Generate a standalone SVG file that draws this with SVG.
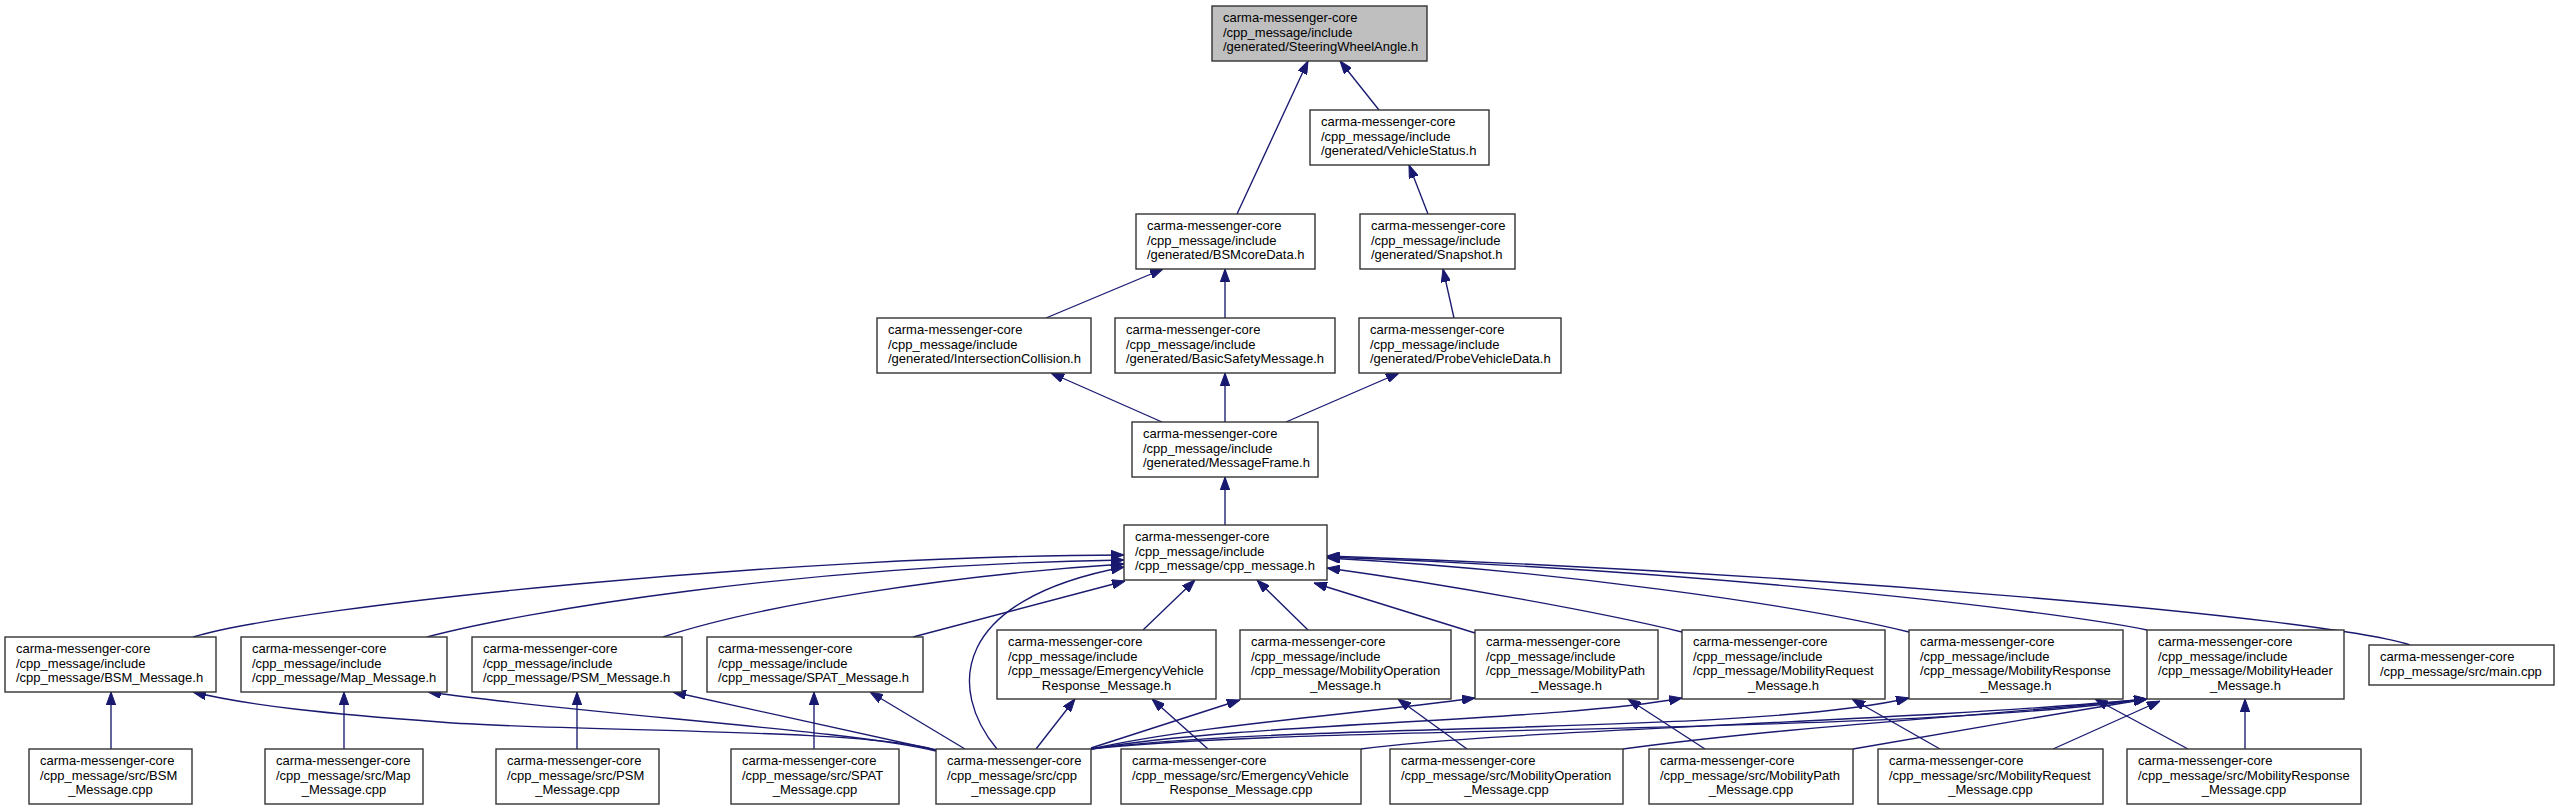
<svg xmlns="http://www.w3.org/2000/svg" width="2559" height="809" viewBox="0 0 2559 809">
<style>
.n rect{fill:#ffffff;stroke:#333333;stroke-width:1.4}
.n.root rect{fill:#bfbfbf}
.n text{font-family:"Liberation Sans",Arial,Helvetica,sans-serif;font-size:13px;fill:#000000}
.n text.c{text-anchor:middle}
#edges path{fill:none;stroke:#191970;stroke-width:1.35}
</style>
<defs>
<marker id="ah" viewBox="0 0 13 9.4" refX="13" refY="4.7" markerUnits="userSpaceOnUse" markerWidth="13" markerHeight="9.4" orient="auto">
<path d="M0,0 L13,4.7 L0,9.4 z" fill="#191970" stroke="#191970" stroke-width="1"/>
</marker>
</defs>
<rect x="0" y="0" width="2559" height="809" fill="#ffffff"/>

<g id="edges">
<path d="M1237,214 L1308,61" marker-end="url(#ah)"/>
<path d="M1379,110 L1340,61" marker-end="url(#ah)"/>
<path d="M1428,214 L1409,165" marker-end="url(#ah)"/>
<path d="M1046,318 L1163,269" marker-end="url(#ah)"/>
<path d="M1225,318 L1225,269" marker-end="url(#ah)"/>
<path d="M1454,318 L1443,269" marker-end="url(#ah)"/>
<path d="M1162,422 L1051,373" marker-end="url(#ah)"/>
<path d="M1225,422 L1225,373" marker-end="url(#ah)"/>
<path d="M1286,422 L1399,373" marker-end="url(#ah)"/>
<path d="M1225,525 L1225,477" marker-end="url(#ah)"/>

<path d="M193,637 C300,605 800,555 1124,555" marker-end="url(#ah)"/>
<path d="M427,637 C520,612 800,565 1124,560" marker-end="url(#ah)"/>
<path d="M663,637 C760,605 950,575 1124,564" marker-end="url(#ah)"/>
<path d="M913,637 L1125,581" marker-end="url(#ah)"/>
<path d="M997,749 C948,690 950,600 1124,567" marker-end="url(#ah)"/>
<path d="M1143,630 L1195,580" marker-end="url(#ah)"/>
<path d="M1308,630 L1257,580" marker-end="url(#ah)"/>
<path d="M1475,633 L1314,583" marker-end="url(#ah)"/>
<path d="M1682,632 C1600,612 1450,585 1327,568" marker-end="url(#ah)"/>
<path d="M1909,632 C1800,605 1550,570 1327,558" marker-end="url(#ah)"/>
<path d="M2147,630 C2050,610 1700,570 1327,557" marker-end="url(#ah)"/>
<path d="M2410,645 C2330,618 1800,572 1327,556" marker-end="url(#ah)"/>

<path d="M111,749 L111,692" marker-end="url(#ah)"/>
<path d="M936,750 C860,728 560,732 440,722 C330,714 250,706 193,692" marker-end="url(#ah)"/>
<path d="M344,749 L344,692" marker-end="url(#ah)"/>
<path d="M936,751 C850,730 600,716 428,692" marker-end="url(#ah)"/>
<path d="M577,749 L577,692" marker-end="url(#ah)"/>
<path d="M936,750 L673,692" marker-end="url(#ah)"/>
<path d="M814,749 L814,692" marker-end="url(#ah)"/>
<path d="M965,749 L870,692" marker-end="url(#ah)"/>
<path d="M1036,749 L1075,699" marker-end="url(#ah)"/>
<path d="M1208,749 L1152,699" marker-end="url(#ah)"/>
<path d="M1091,748 L1240,700" marker-end="url(#ah)"/>
<path d="M1467,749 L1398,699" marker-end="url(#ah)"/>
<path d="M1091,749 C1200,725 1350,715 1475,698" marker-end="url(#ah)"/>
<path d="M1705,749 L1628,699" marker-end="url(#ah)"/>
<path d="M1091,749 C1250,722 1550,722 1682,698" marker-end="url(#ah)"/>
<path d="M1940,749 L1852,699" marker-end="url(#ah)"/>
<path d="M1091,749 C1300,722 1750,735 1909,698" marker-end="url(#ah)"/>
<path d="M2188,749 L2095,699" marker-end="url(#ah)"/>
<path d="M1091,749 C1300,725 1900,735 2147,699" marker-end="url(#ah)"/>
<path d="M1361,749 C1500,730 1900,722 2147,699" marker-end="url(#ah)"/>
<path d="M1623,749 C1800,725 2000,715 2147,699" marker-end="url(#ah)"/>
<path d="M1853,749 C1950,732 2050,715 2147,699" marker-end="url(#ah)"/>
<path d="M2053,749 L2160,701" marker-end="url(#ah)"/>
<path d="M2245,749 L2245,699" marker-end="url(#ah)"/>
</g>

<g id="n_swa" class="n root"><rect x="1212" y="6" width="215" height="55"/>
<text x="1223" y="22">carma-messenger-core</text><text x="1223" y="36.7">/cpp_message/include</text><text x="1223" y="51.3">/generated/SteeringWheelAngle.h</text></g>

<g id="n_vehiclestatus" class="n"><rect x="1310" y="110" width="179" height="55"/>
<text x="1321" y="126">carma-messenger-core</text><text x="1321" y="140.7">/cpp_message/include</text><text x="1321" y="155.3">/generated/VehicleStatus.h</text></g>

<g id="n_bsmcoredata" class="n"><rect x="1136" y="214" width="179" height="55"/>
<text x="1147" y="230">carma-messenger-core</text><text x="1147" y="244.7">/cpp_message/include</text><text x="1147" y="259.3">/generated/BSMcoreData.h</text></g>

<g id="n_snapshot" class="n"><rect x="1360" y="214" width="155" height="55"/>
<text x="1371" y="230">carma-messenger-core</text><text x="1371" y="244.7">/cpp_message/include</text><text x="1371" y="259.3">/generated/Snapshot.h</text></g>

<g id="n_intersection" class="n"><rect x="877" y="318" width="214" height="55"/>
<text x="888" y="334">carma-messenger-core</text><text x="888" y="348.7">/cpp_message/include</text><text x="888" y="363.3">/generated/IntersectionCollision.h</text></g>

<g id="n_basicsafety" class="n"><rect x="1115" y="318" width="220" height="55"/>
<text x="1126" y="334">carma-messenger-core</text><text x="1126" y="348.7">/cpp_message/include</text><text x="1126" y="363.3">/generated/BasicSafetyMessage.h</text></g>

<g id="n_probe" class="n"><rect x="1359" y="318" width="202" height="55"/>
<text x="1370" y="334">carma-messenger-core</text><text x="1370" y="348.7">/cpp_message/include</text><text x="1370" y="363.3">/generated/ProbeVehicleData.h</text></g>

<g id="n_messageframe" class="n"><rect x="1132" y="422" width="186" height="55"/>
<text x="1143" y="438">carma-messenger-core</text><text x="1143" y="452.7">/cpp_message/include</text><text x="1143" y="467.3">/generated/MessageFrame.h</text></g>

<g id="n_cppmessage_h" class="n"><rect x="1124" y="525" width="203" height="55"/>
<text x="1135" y="541">carma-messenger-core</text><text x="1135" y="555.7">/cpp_message/include</text><text x="1135" y="570.3">/cpp_message/cpp_message.h</text></g>

<g id="n_bsm_h" class="n"><rect x="5" y="637" width="211" height="55"/>
<text x="16" y="653">carma-messenger-core</text><text x="16" y="667.7">/cpp_message/include</text><text x="16" y="682.3">/cpp_message/BSM_Message.h</text></g>

<g id="n_map_h" class="n"><rect x="241" y="637" width="206" height="55"/>
<text x="252" y="653">carma-messenger-core</text><text x="252" y="667.7">/cpp_message/include</text><text x="252" y="682.3">/cpp_message/Map_Message.h</text></g>

<g id="n_psm_h" class="n"><rect x="472" y="637" width="210" height="55"/>
<text x="483" y="653">carma-messenger-core</text><text x="483" y="667.7">/cpp_message/include</text><text x="483" y="682.3">/cpp_message/PSM_Message.h</text></g>

<g id="n_spat_h" class="n"><rect x="707" y="637" width="216" height="55"/>
<text x="718" y="653">carma-messenger-core</text><text x="718" y="667.7">/cpp_message/include</text><text x="718" y="682.3">/cpp_message/SPAT_Message.h</text></g>

<g id="n_evr_h" class="n"><rect x="997" y="630" width="219" height="69"/>
<text x="1008" y="646">carma-messenger-core</text><text x="1008" y="660.7">/cpp_message/include</text><text x="1008" y="675.3">/cpp_message/EmergencyVehicle</text><text class="c" x="1106.5" y="690">Response_Message.h</text></g>

<g id="n_mobop_h" class="n"><rect x="1240" y="630" width="211" height="69"/>
<text x="1251" y="646">carma-messenger-core</text><text x="1251" y="660.7">/cpp_message/include</text><text x="1251" y="675.3">/cpp_message/MobilityOperation</text><text class="c" x="1345.5" y="690">_Message.h</text></g>

<g id="n_mobpath_h" class="n"><rect x="1475" y="630" width="183" height="69"/>
<text x="1486" y="646">carma-messenger-core</text><text x="1486" y="660.7">/cpp_message/include</text><text x="1486" y="675.3">/cpp_message/MobilityPath</text><text class="c" x="1566.5" y="690">_Message.h</text></g>

<g id="n_mobreq_h" class="n"><rect x="1682" y="630" width="203" height="69"/>
<text x="1693" y="646">carma-messenger-core</text><text x="1693" y="660.7">/cpp_message/include</text><text x="1693" y="675.3">/cpp_message/MobilityRequest</text><text class="c" x="1783.5" y="690">_Message.h</text></g>

<g id="n_mobresp_h" class="n"><rect x="1909" y="630" width="214" height="69"/>
<text x="1920" y="646">carma-messenger-core</text><text x="1920" y="660.7">/cpp_message/include</text><text x="1920" y="675.3">/cpp_message/MobilityResponse</text><text class="c" x="2016" y="690">_Message.h</text></g>

<g id="n_mobheader_h" class="n"><rect x="2147" y="630" width="197" height="69"/>
<text x="2158" y="646">carma-messenger-core</text><text x="2158" y="660.7">/cpp_message/include</text><text x="2158" y="675.3">/cpp_message/MobilityHeader</text><text class="c" x="2245.5" y="690">_Message.h</text></g>

<g id="n_main_cpp" class="n"><rect x="2369" y="645" width="185" height="40"/>
<text x="2380" y="661">carma-messenger-core</text><text x="2380" y="675.7">/cpp_message/src/main.cpp</text></g>

<g id="n_bsm_cpp" class="n"><rect x="29" y="749" width="163" height="55"/>
<text x="40" y="765">carma-messenger-core</text><text x="40" y="779.7">/cpp_message/src/BSM</text><text class="c" x="110.5" y="794.3">_Message.cpp</text></g>

<g id="n_map_cpp" class="n"><rect x="265" y="749" width="158" height="55"/>
<text x="276" y="765">carma-messenger-core</text><text x="276" y="779.7">/cpp_message/src/Map</text><text class="c" x="344" y="794.3">_Message.cpp</text></g>

<g id="n_psm_cpp" class="n"><rect x="496" y="749" width="163" height="55"/>
<text x="507" y="765">carma-messenger-core</text><text x="507" y="779.7">/cpp_message/src/PSM</text><text class="c" x="577.5" y="794.3">_Message.cpp</text></g>

<g id="n_spat_cpp" class="n"><rect x="731" y="749" width="168" height="55"/>
<text x="742" y="765">carma-messenger-core</text><text x="742" y="779.7">/cpp_message/src/SPAT</text><text class="c" x="815" y="794.3">_Message.cpp</text></g>

<g id="n_cpp_cpp" class="n"><rect x="936" y="749" width="155" height="55"/>
<text x="947" y="765">carma-messenger-core</text><text x="947" y="779.7">/cpp_message/src/cpp</text><text class="c" x="1013.5" y="794.3">_message.cpp</text></g>

<g id="n_evr_cpp" class="n"><rect x="1121" y="749" width="240" height="55"/>
<text x="1132" y="765">carma-messenger-core</text><text x="1132" y="779.7">/cpp_message/src/EmergencyVehicle</text><text class="c" x="1241" y="794.3">Response_Message.cpp</text></g>

<g id="n_mobop_cpp" class="n"><rect x="1390" y="749" width="233" height="55"/>
<text x="1401" y="765">carma-messenger-core</text><text x="1401" y="779.7">/cpp_message/src/MobilityOperation</text><text class="c" x="1506.5" y="794.3">_Message.cpp</text></g>

<g id="n_mobpath_cpp" class="n"><rect x="1649" y="749" width="204" height="55"/>
<text x="1660" y="765">carma-messenger-core</text><text x="1660" y="779.7">/cpp_message/src/MobilityPath</text><text class="c" x="1751" y="794.3">_Message.cpp</text></g>

<g id="n_mobreq_cpp" class="n"><rect x="1878" y="749" width="225" height="55"/>
<text x="1889" y="765">carma-messenger-core</text><text x="1889" y="779.7">/cpp_message/src/MobilityRequest</text><text class="c" x="1990.5" y="794.3">_Message.cpp</text></g>

<g id="n_mobresp_cpp" class="n"><rect x="2127" y="749" width="234" height="55"/>
<text x="2138" y="765">carma-messenger-core</text><text x="2138" y="779.7">/cpp_message/src/MobilityResponse</text><text class="c" x="2244" y="794.3">_Message.cpp</text></g>
</svg>
